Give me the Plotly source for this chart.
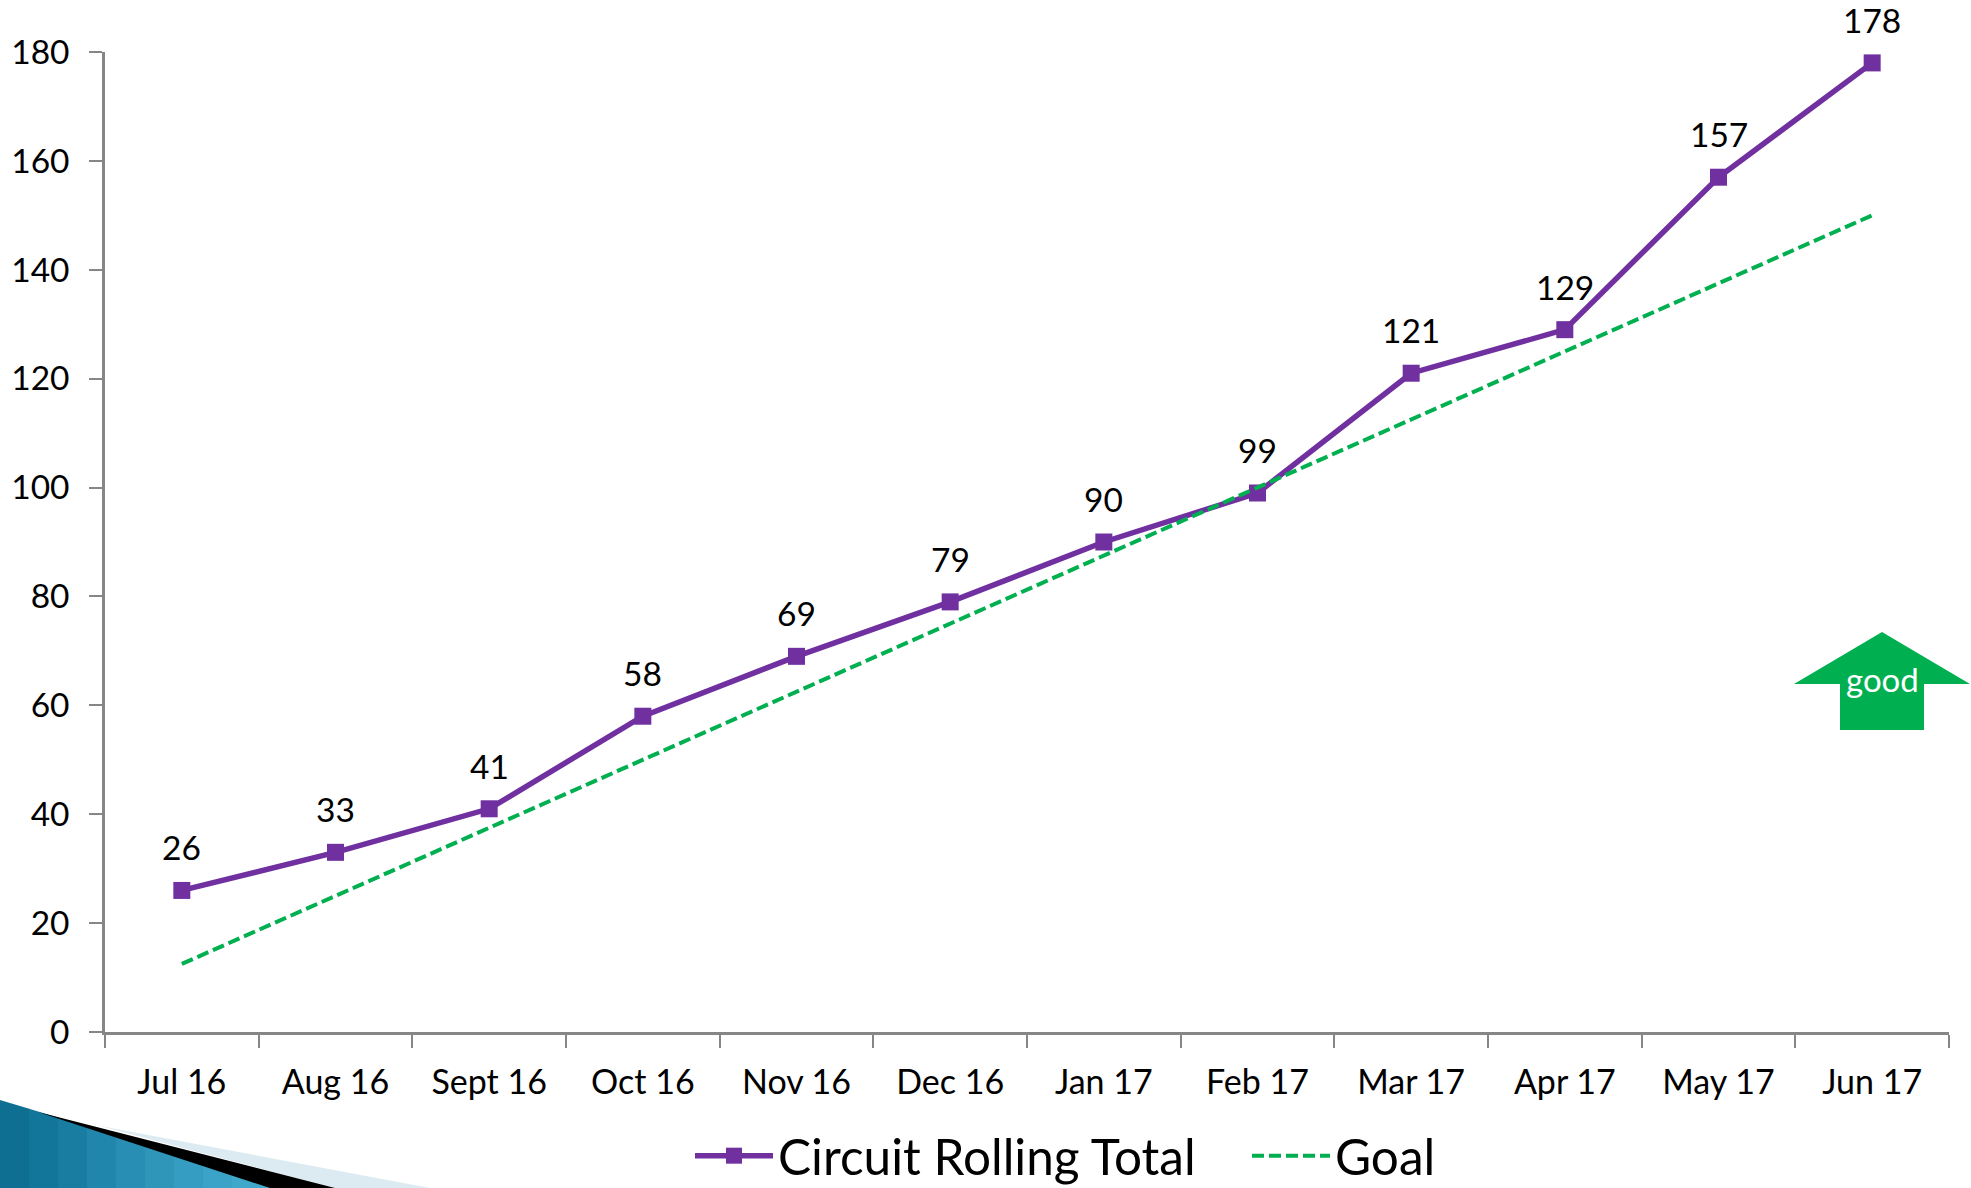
import plotly.graph_objects as go

W, H = 1971, 1188
L, R, T, B = 105, 22, 52, 156

months = ["Jul 16", "Aug 16", "Sept 16", "Oct 16", "Nov 16", "Dec 16",
          "Jan 17", "Feb 17", "Mar 17", "Apr 17", "May 17", "Jun 17"]
circuit_total = [26, 33, 41, 58, 69, 79, 90, 99, 121, 129, 157, 178]
goal = [12.5, 25, 37.5, 50, 62.5, 75, 87.5, 100, 112.5, 125, 137.5, 150]
y_ticks = [0, 20, 40, 60, 80, 100, 120, 140, 160, 180]

FONT = "Lato, 'Open Sans', sans-serif"
PURPLE = "#7030A0"
GREEN = "#00B050"
AXIS = "#868686"


def px(x):
    return (x - L) / (W - L - R)


def py(y):
    return 1 - (y - T) / (H - T - B)


def poly(points, color):
    path = "M " + " L ".join(f"{px(x):.5f},{py(y):.5f}" for x, y in points) + " Z"
    return dict(type="path", xref="paper", yref="paper", path=path,
                fillcolor=color, line=dict(width=0), layer="below")


shapes = []
# corner ribbon, teal part in vertical strips to imitate its gradient
teal = ["#0E6F92", "#12759A", "#197DA2", "#2086AB", "#288EB3", "#2F96BA", "#359DC1", "#3BA3C7", "#40A8CB", "#44ACCF"]
for i, c in enumerate(teal):
    x0, x1 = i * 29, (i + 1) * 29 + 1
    shapes.append(poly([(x0, 1100 + x0 * 0.30), (x1, 1100 + x1 * 0.30), (x1, 1188), (x0, 1188)], c))
shapes.append(poly([(100, 1126), (430, 1188), (335, 1188)], "#DCEAF1"))
shapes.append(poly([(38, 1112), (335, 1188), (270, 1188)], "#000000"))
# "good" arrow
shapes.append(poly([(1882, 632), (1970, 684), (1924, 684), (1924, 730),
                    (1840, 730), (1840, 684), (1794, 684)], GREEN))

annotations = [
    dict(x=m, y=v, text=str(v), xref="x", yref="y", showarrow=False, yshift=43,
         font=dict(family=FONT, size=33.5, color="#000000"))
    for m, v in zip(months, circuit_total)
]
annotations.append(dict(x=px(1882), y=py(679), xref="paper", yref="paper", text="good",
                        xanchor="center", yanchor="middle",
                        showarrow=False, font=dict(family=FONT, size=33, color="#FFFFFF")))

fig = go.Figure()
fig.add_trace(go.Scatter(x=months, y=circuit_total, name="Circuit Rolling Total",
                         mode="lines+markers", cliponaxis=False, legend="legend",
                         line=dict(color=PURPLE, width=5.5),
                         marker=dict(symbol="square", size=17, color=PURPLE)))
fig.add_trace(go.Scatter(x=months, y=goal, name="Goal", mode="lines", cliponaxis=False,
                         legend="legend2",
                         line=dict(color=GREEN, width=4, dash="12px,5px")))


def legend_at(x):
    return dict(orientation="h", xref="container", yref="container",
                x=x / W, xanchor="left", y=1 - 1156 / H, yanchor="middle",
                font=dict(family=FONT, size=49.5, color="#000000"),
                itemwidth=78, bgcolor="rgba(0,0,0,0)")


fig.update_layout(
    width=W, height=H, margin=dict(l=L, r=R, t=T, b=B, pad=0),
    paper_bgcolor="#FFFFFF", plot_bgcolor="#FFFFFF",
    font=dict(family=FONT, color="#000000"),
    shapes=shapes, annotations=annotations, showlegend=True,
    legend=legend_at(690), legend2=legend_at(1247),
    xaxis=dict(type="category", categoryorder="array", categoryarray=months,
               range=[-0.5, 11.5], tickson="boundaries", ticks="outside", ticklen=13,
               tickwidth=2, tickcolor=AXIS, showline=True, linewidth=2.5, linecolor=AXIS,
               showgrid=False, zeroline=False, ticklabelstandoff=18, automargin=False,
               tickfont=dict(family=FONT, size=34, color="#000000")),
    yaxis=dict(range=[0, 180], tickvals=y_ticks, ticks="outside", ticklen=13,
               tickwidth=2, tickcolor=AXIS, showline=True, linewidth=2.5, linecolor=AXIS,
               showgrid=False, zeroline=False, ticklabelstandoff=13, automargin=False,
               tickfont=dict(family=FONT, size=33.5, color="#000000")),
)

fig.write_html("out.html", default_width="1971px", default_height="1188px",
               config=dict(displayModeBar=False, responsive=False),
               post_script="document.body.style.margin='0';")
